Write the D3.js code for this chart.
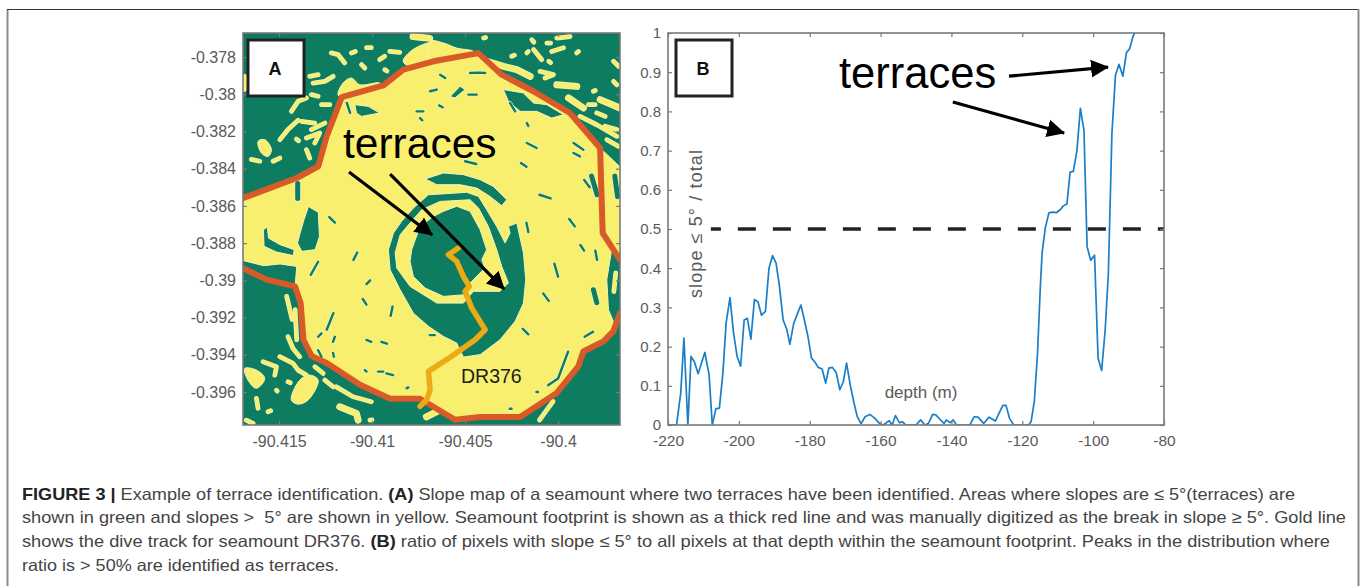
<!DOCTYPE html>
<html>
<head>
<meta charset="utf-8">
<script src="https://cdn.jsdelivr.net/npm/d3@7"></script>
<style>
  html, body { margin:0; padding:0; background:#fff; overflow:hidden; }
  text { font-family:"Liberation Sans", Arial, sans-serif; }
</style>
</head>
<body>
<div id="graph-container"></div>
<script>
// ---- panel A : all map points are [lon, lat] in thousandths of a degree (lon is counted from -90)
const lonTicks = [-90.415,-90.41,-90.405,-90.4];
const lonTickLabels = ['-90.415','-90.41','-90.405','-90.4'];
const latTicks = [-0.378,-0.38,-0.382,-0.384,-0.386,-0.388,-0.39,-0.392,-0.394,-0.396];
const latTickLabels = ['-0.378','-0.38','-0.382','-0.384','-0.386','-0.388','-0.39','-0.392','-0.394','-0.396'];

const footprintNorth = [[-416.95,-385.58],[-414.05,-384.5],[-412.89,-383.87],[-412.44,-382.26],[-411.63,-380.15],[-409.39,-379.52],[-408.32,-378.68],[-406.7,-378.23],[-404.28,-377.79],[-403.03,-378.95],[-401.33,-379.84],[-399.36,-381.01],[-397.74,-382.89],[-397.6,-387.46],[-396.67,-388.89]];
const footprintSouth = [[-396.67,-391.76],[-397.03,-392.74],[-397.56,-393.28],[-398.64,-393.82],[-398.91,-394.62],[-400.07,-396.05],[-402.04,-397.34],[-404.19,-397.34],[-405.54,-397.49],[-407.42,-396.36],[-409.03,-396.36],[-410.65,-395.61],[-412.44,-394.44],[-413.24,-394.08],[-413.69,-393.19],[-413.84,-391.22],[-414.14,-390.32],[-415.66,-389.96],[-416.95,-389.34]];
const diveTrack = [[-405.36,-388.26],[-405.9,-388.62],[-405.45,-388.98],[-405.09,-389.79],[-404.77,-390.32],[-405,-390.59],[-404.64,-391.49],[-403.92,-392.65],[-404.46,-393.19],[-405.72,-394.08],[-406.97,-394.89],[-406.88,-395.88],[-407.06,-396.41],[-407.42,-396.77]];

const yellowAreas = [
  [[-416.95,-385.52],[-414.05,-384.56],[-412.89,-383.87],[-412.44,-382.26],[-411.63,-380.15],[-409.39,-379.52],[-408.32,-378.68],[-406.7,-378.23],[-404.28,-377.79],[-403.03,-378.95],[-401.33,-379.84],[-399.36,-381.01],[-397.74,-382.89],[-397.6,-387.46],[-397.12,-388.35],[-397.38,-389.96],[-397.29,-391.58],[-397.03,-392.2],[-397.03,-392.74],[-397.56,-393.28],[-398.64,-393.82],[-398.91,-394.62],[-400.07,-396.05],[-402.04,-397.34],[-404.19,-397.34],[-405.54,-397.49],[-407.42,-396.36],[-409.03,-396.36],[-410.65,-395.61],[-412.44,-394.44],[-413.24,-394.08],[-413.69,-393.19],[-413.84,-391.22],[-414.14,-390.32],[-414.05,-389.25],[-414.95,-389.12],[-415.84,-389.21],[-416.95,-388.93]],
  [[-397.74,-382.89],[-396.67,-383.9],[-396.67,-388.89],[-397.6,-387.46]]
];
const greenAreas = [
  [[-413.87,-387.46],[-413.66,-386.74],[-413.42,-386.03],[-412.89,-386.35],[-412.83,-387.64],[-413.06,-388.35],[-413.78,-388.44],[-414.01,-387.99]],
  [[-415.84,-387.28],[-415.63,-387.13],[-415.57,-387.73],[-414.95,-388.08],[-414.19,-388.35],[-414.23,-388.67],[-415.13,-388.48],[-415.81,-388.17]],
  [[-407.15,-384.55],[-406.16,-384.23],[-405.09,-384.32],[-404.19,-384.59],[-403.48,-384.95],[-402.76,-385.67],[-403.03,-385.99],[-403.66,-385.49],[-404.37,-385.04],[-405.27,-384.86],[-406.52,-384.86]],
  [[-409.12,-388.35],[-408.85,-387.46],[-408.41,-386.83],[-407.78,-386.11],[-406.97,-385.4],[-405.99,-385.34],[-404.91,-385.27],[-404.28,-385.49],[-403.84,-386.2],[-403.3,-387.1],[-402.85,-387.99],[-402.58,-387.46],[-402.67,-387.1],[-402.22,-386.92],[-401.86,-388.53],[-401.74,-389.96],[-401.86,-391.22],[-402.31,-392.2],[-403.12,-393.19],[-404.19,-393.99],[-405.09,-394.12],[-405.45,-393.37],[-406.16,-393.01],[-406.97,-392.47],[-407.78,-391.76],[-408.49,-390.5],[-409.03,-389.43]],
  [[-410.93,-380.56],[-410.21,-380.65],[-409.59,-381.01],[-410.57,-381.19],[-410.84,-381.01]],
  [[-402.94,-379.75],[-401.87,-379.93],[-401.32,-380.47],[-400.61,-380.56],[-399.71,-381.1],[-400.34,-381.28],[-401.15,-380.92],[-402.04,-380.92],[-402.67,-380.38]],
  [[-405.8,-380.12],[-405.27,-379.57],[-405,-379.75],[-405.54,-380.2]]
];
const ringBand = [[-408.76,-388.53],[-408.49,-387.55],[-407.96,-386.92],[-407.33,-386.2],[-406.34,-385.76],[-404.73,-385.67],[-404.28,-386.11],[-403.75,-387.1],[-403.3,-388.35],[-403.03,-389.25],[-402.67,-390.14],[-403.12,-390.59],[-404.55,-390.59],[-405.09,-391.22],[-406.52,-391.22],[-407.96,-390.32],[-408.67,-389.34]];
const innerBlob = [[-407.87,-388.35],[-407.42,-387.1],[-406.7,-386.56],[-406.16,-386.29],[-405.45,-386.02],[-404.73,-386.29],[-404.19,-387.28],[-403.84,-388.35],[-404.1,-388.89],[-403.93,-389.34],[-404.73,-390.14],[-405,-390.77],[-406.16,-390.86],[-407.15,-390.41],[-407.78,-389.79],[-407.96,-388.98]];

const yellowPatches = [
  [[-411.83,-380.02],[-411.56,-379.4],[-411.11,-379.13],[-410.66,-379.49],[-409.59,-379.4],[-409.77,-379.75],[-411.56,-380.2]],
  [[-416.13,-382.53],[-415.77,-382.44],[-415.41,-382.98],[-415.59,-383.34],[-415.95,-383.16]],
  [[-408.33,-378.23],[-407.8,-377.6],[-406.72,-377.25],[-406.72,-378.05],[-407.97,-378.5]],
  [[-406.88,-377.16],[-406.16,-377.25],[-405.45,-377.52],[-404.55,-377.7],[-406.88,-378.41]],
  [[-416.85,-394.73],[-416.22,-394.82],[-415.77,-395.27],[-416.22,-395.8],[-416.67,-395.36]],
  [[-414.34,-396.43],[-413.89,-395.36],[-413.35,-395.09],[-412.9,-395.36],[-413.44,-396.43],[-413.98,-396.65]]
];
const yellowBlobs = [
  [[-403.83,-378.23],[-402.94,-378.5],[-402.22,-378.68],[-401.5,-379.04]],
  [[-400.07,-379.49],[-398.99,-379.58]],
  [[-399.44,-380.2],[-398.64,-380.74]],
  [[-397.74,-380.29],[-396.67,-380.74]],
  [[-407.8,-376.9],[-406.9,-377]],
  [[-407.08,-397.33],[-406.36,-396.97]],
  [[-411.74,-396.79],[-410.84,-397.15],[-410.75,-397.51]]
];
const yellowFlecks = [
  [[-414.96,-382.44],[-414.52,-381.9],[-413.98,-381.4]],[[-414.34,-380.92],[-413.98,-380.38],[-413.53,-380.2]],
  [[-413.26,-380.02],[-412.9,-380.11]],[[-413.35,-379.04],[-412.9,-378.95]],[[-413.17,-379.4],[-412.54,-379.31],[-412.09,-379.04]],
  [[-412.72,-380.56],[-412.27,-380.56]],[[-412.19,-377.78],[-411.83,-377.87],[-411.47,-378.32]],[[-411.11,-377.78],[-410.9,-377.7]],
  [[-410.3,-377.5],[-410.04,-377.5]],[[-409.59,-378.14],[-409.32,-377.96]],[[-409.05,-377.7],[-408.51,-377.75]],
  [[-410.57,-378.41],[-410.39,-378.59]],[[-409.32,-378.68],[-409.2,-378.75]],[[-413.8,-381.46],[-413.08,-381.55]],
  [[-413.26,-381.9],[-412.54,-381.55]],[[-414.07,-382.41],[-413.95,-382.5]],[[-413.53,-382.35],[-412.81,-382.08],[-413.08,-382.62]],
  [[-412.27,-382.26],[-411.83,-381.73]],[[-411.56,-381.64],[-411.2,-380.65],[-410.66,-380.38]],[[-412.72,-383.25],[-412.45,-382.89]],
  [[-413.53,-382.98],[-413.35,-383.43]],[[-416.49,-383.5],[-416.04,-383.6]],[[-415.32,-383.6],[-414.96,-383.43]],
  [[-416.85,-379.04],[-416.85,-379.75]],[[-400.97,-378.77],[-400.25,-378.95],[-400.7,-379.13]],
  [[-401.32,-377.6],[-400.88,-378.14]],[[-400.34,-377.7],[-399.71,-377.5]],[[-400.5,-378.23],[-400.4,-378.3]],
  [[-401.41,-377.07],[-401.3,-377.2]],[[-400.6,-377.25],[-400.4,-377.25]],[[-400.07,-376.98],[-399.35,-376.9]],
  [[-402.49,-377.96],[-402.35,-377.9]],[[-401.68,-377.78],[-401.6,-377.7]],[[-404,-376.98],[-403.9,-376.95]],
  [[-399,-377.78],[-398.9,-377.7]],[[-397.02,-378.23],[-396.75,-378.5]],[[-397.02,-379.31],[-396.84,-379.49]],
  [[-398.1,-379.84],[-398,-379.8]],[[-398.37,-380.56],[-398.01,-380.56]],[[-398.82,-381.19],[-397.92,-381.64],[-396.84,-382.26]],
  [[-397.92,-381],[-397.47,-381.19]],[[-397.47,-381.72],[-396.84,-381.9]],[[-397.38,-382.44],[-396.75,-382.8]],
  [[-415.86,-394.37],[-415.14,-394.64],[-415.23,-395.09]],[[-414.96,-394.1],[-414.25,-394.46],[-413.98,-394.82],[-413.53,-395.09]],
  [[-414.52,-393.03],[-414.25,-393.66],[-413.89,-394.1]],[[-413.08,-394.64],[-412.63,-395]],[[-412.54,-395.36],[-412.09,-395.72]],
  [[-411.92,-395.72],[-411.02,-396.25],[-410.04,-396.52]],[[-410.12,-397.51],[-410,-397.5]],[[-416.22,-396.34],[-416.13,-396.88]],
  [[-415.59,-397.06],[-415.45,-397]],[[-416.76,-397.51],[-416.4,-397.69]],[[-414.52,-395.45],[-414.4,-395.5]],
  [[-415.14,-395.9],[-415.1,-395.95]],[[-401,-397.5],[-400.27,-396.5]],[[-414.05,-393.19],[-414.14,-391.57]],
  [[-414.59,-390.86],[-414.3,-392.1]],[[-396.9,-389.6],[-397,-390.6]],[[-406.9,-392.1],[-406,-392.7],[-405.2,-393.1]]
];
const greenBlobs = [
  [[-398.2,-384.4],[-397.9,-385.4]],[[-398.1,-390.5],[-397.92,-391.2]],[[-414,-384.8],[-414,-385.6]],[[-396.95,-384.4],[-396.8,-385.5]]
];
const greenFlecks = [
  [[-411.36,-380.47],[-411.18,-381]],[[-407.42,-381.28],[-407.3,-381.4]],[[-406.4,-380.6],[-406.2,-380.7]],
  [[-407.6,-380.92],[-407.25,-380.92]],[[-404.82,-380.02],[-404.37,-380.02]],[[-404.73,-378.86],[-404.3,-378.84],[-403.92,-378.86]],
  [[-406.34,-378.95],[-406.07,-379.13]],[[-406.88,-379.84],[-406.52,-379.75]],[[-401.68,-382.62],[-401.15,-382.89]],
  [[-399.17,-382.62],[-398.64,-382.98]],[[-399.17,-383.16],[-398.82,-383.34]],[[-401.68,-381.55],[-401.6,-381.7]],
  [[-402.58,-380.47],[-402.31,-380.92]],[[-402,-383.7],[-401.7,-383.9]],[[-405,-383.6],[-404.4,-383.75]],
  [[-401,-385.4],[-400.4,-385.6]],[[-399.4,-386.7],[-399.1,-387.1]],[[-401.7,-386.9],[-401.6,-387.4]],
  [[-400.2,-389.1],[-400,-389.8]],[[-398.8,-388.1],[-398.6,-388.4]],[[-398,-388.4],[-397.9,-388.9]],
  [[-412.08,-391.76],[-412.44,-392.65]],[[-409.5,-393.3],[-409.2,-393.4]],[[-408.9,-391.4],[-409,-391.9]],
  [[-412.9,-389],[-413.3,-389.7]],[[-410.3,-390.2],[-410.1,-390]],[[-411,-388.9],[-410.8,-388.5]],
  [[-400.54,-395.63],[-400,-395.27],[-399.46,-393.83]],[[-401.16,-396],[-401.08,-396]],[[-412.9,-393.03],[-412.72,-392.85]],
  [[-412,-393.03],[-412.1,-393.3]],[[-410.3,-393.2],[-410.04,-393.3]],[[-410.39,-394.82],[-410.3,-394.9]],
  [[-409.68,-394.9],[-409.4,-394.9]],[[-409.23,-395],[-408.87,-395.09]],[[-408.15,-395.8],[-408.05,-395.75]],
  [[-412.9,-393.75],[-412.72,-394.1]],[[-412.1,-393.9],[-412.05,-394.1]],[[-406.9,-392.94],[-406.63,-392.94]],
  [[-398.57,-393.03],[-398.12,-392.76]],[[-402.6,-396.9],[-402.5,-396.9]],[[-410.5,-391],[-410.3,-391.3]],
  [[-401.9,-392.6],[-401.6,-392.9]],[[-400.8,-390.7],[-400.5,-391.1]],[[-412.3,-386.6],[-412,-386.9]],[[-398.6,-384.6],[-398.3,-385]]
];
const mapArrows = [
  [[-411.24,-384.18],[-406.77,-387.56]],
  [[-409.03,-384.29],[-402.9,-390.47]]
];

// ---- panel B
const depthTicks = [-220,-200,-180,-160,-140,-120,-100,-80];
const ratioTicks = [0,0.1,0.2,0.3,0.4,0.5,0.6,0.7,0.8,0.9,1];
const depth = [-220,-217.6,-216.4,-215.5,-214.4,-213.5,-212.5,-211.5,-209.6,-208.4,-207.5,-206.5,-205.5,-204.5,-203.6,-202.5,-201.5,-200.5,-199.5,-198.5,-197.6,-196.6,-195.6,-194.6,-193.6,-192.5,-191.5,-190.5,-189.5,-188.6,-187.5,-186.5,-185.6,-184.5,-182.5,-181.5,-180.5,-179.5,-178.5,-177.6,-176.5,-175.5,-174.6,-173.6,-172.5,-171.5,-170.5,-169.6,-168.5,-167.5,-166.6,-165.5,-164.4,-163,-161.6,-160.2,-159.2,-157.6,-156.7,-155.8,-154.7,-153.8,-152.9,-150,-148.7,-147.5,-146.5,-145.3,-144.4,-143.2,-142.1,-141.4,-140.4,-139.5,-138.6,-134.8,-133.6,-132.5,-130.9,-129.4,-127.6,-125.5,-124.6,-123.6,-122.4,-118.2,-117.5,-116.6,-115.7,-114.9,-114.4,-113.5,-112.5,-111.5,-110.3,-109.3,-108.4,-107.4,-106.5,-105.6,-104.6,-103.6,-102.6,-101.7,-100.7,-99.6,-98.6,-97.6,-96.6,-95.7,-94.7,-93.7,-92.7,-91.6,-90.6,-89.7,-88.8,-87.8];
const ratio = [0,0,0.082,0.222,0,0.175,0.16,0.131,0.185,0.128,0,0.041,0.043,0.133,0.26,0.325,0.235,0.175,0.15,0.268,0.272,0.219,0.32,0.314,0.28,0.29,0.4,0.432,0.413,0.358,0.268,0.245,0.206,0.26,0.306,0.268,0.226,0.171,0.16,0.147,0.143,0.107,0.145,0.147,0.133,0.09,0.111,0.158,0.099,0.056,0.022,0.003,0.021,0.027,0.017,0.003,0,0.011,0,0.024,0.006,0.008,0,0,0.013,0,0.004,0.027,0.026,0.014,0.004,0.013,0.006,0.013,0,0,0.021,0.02,0.004,0.02,0.01,0.05,0.05,0.017,0,0,0.009,0.06,0.183,0.354,0.44,0.503,0.541,0.543,0.542,0.549,0.559,0.564,0.645,0.647,0.698,0.808,0.752,0.455,0.42,0.433,0.17,0.139,0.243,0.387,0.744,0.892,0.92,0.89,0.95,0.96,0.99,1.01];
const depthArrows = [
  [[-123.75,0.89],[-95.8,0.913]],
  [[-139.6,0.824],[-108.2,0.745]]
];
const threshold = 0.5;
const thresholdStart = -207.9;

const captionLines = [
  {end:1295, parts:[['FIGURE 3 | ',1],['Example of terrace identification. ',0],['(A) ',1],['Slope map of a seamount where two terraces have been identified. Areas where slopes are ≤ 5°(terraces) are',0]]},
  {end:1346, parts:[['shown in green and slopes >  5° are shown in yellow. Seamount footprint is shown as a thick red line and was manually digitized as the break in slope ≥ 5°. Gold line',0]]},
  {end:1330, parts:[['shows the dive track for seamount DR376. ',0],['(B) ',1],['ratio of pixels with slope ≤ 5° to all pixels at that depth within the seamount footprint. Peaks in the distribution where',0]]},
  {end:339, parts:[['ratio is > 50% are identified as terraces.',0]]}
];

const main = () => {
  const width = 1360, height = 586;
  const GREEN = '#0e7b61', YELLOW = '#f8ef6e', HALO = '#eef4c4', RED = '#d85a28', GOLD = '#ecaa14', BLUE = '#1a7ec8';
  const GREY = '#5a5a5a', AXIS = '#7a7a7a';

  const svg = d3.select('#graph-container').append('svg')
    .attr('width', width).attr('height', height).style('display','block').style('background','#fff');

  const defs = svg.append('defs');
  defs.append('filter').attr('id','soft').attr('x','-2%').attr('y','-2%').attr('width','104%').attr('height','104%')
    .append('feGaussianBlur').attr('stdDeviation',0.45);
  defs.append('clipPath').attr('id','map-clip').append('rect').attr('x',243).attr('y',33).attr('width',377).attr('height',392);
  defs.append('clipPath').attr('id','depth-clip').append('rect').attr('x',668).attr('y',33).attr('width',496).attr('height',392);
  defs.append('marker').attr('id','head').attr('viewBox','0 0 18 20').attr('refX',17).attr('refY',10)
    .attr('markerUnits','userSpaceOnUse').attr('markerWidth',18).attr('markerHeight',20).attr('orient','auto')
    .append('path').attr('d','M0 1L18 10L0 19z').attr('fill','#000');

  // page frame
  svg.append('path').attr('d','M7.5 590V9.5').attr('stroke','#8a8a8a').attr('stroke-width',2).attr('fill','none');
  svg.append('path').attr('d','M7 9.5H1358').attr('stroke','#333').attr('stroke-width',1.2).attr('fill','none');
  svg.append('path').attr('d','M1358.5 9V590').attr('stroke','#8a8a8a').attr('stroke-width',2).attr('fill','none');

  // ---------- panel A
  const x = d3.scaleLinear().domain([-90.41694,-90.39667]).range([243,620]);
  const y = d3.scaleLinear().domain([-0.39777,-0.37671]).range([425,33]);
  const px = p => x(-90 + p[0]/1000);
  const py = p => y(p[1]/1000);
  const mapLine = d3.line().x(px).y(py);
  const mapArea = p => mapLine(p) + 'Z';
  const mapBlob = d3.line().x(px).y(py).curve(d3.curveCatmullRomClosed);

  const map = svg.append('g').attr('clip-path','url(#map-clip)');
  const ground = map.append('g').attr('filter','url(#soft)');
  ground.append('rect').attr('x',243).attr('y',33).attr('width',377).attr('height',392).attr('fill',GREEN);

  const strips = (data, color, w) => {
    ground.append('g').selectAll('path').data(data).join('path')
      .attr('d',mapLine).attr('fill','none').attr('stroke',HALO).attr('stroke-width',w+1.4).attr('stroke-linecap','round').attr('stroke-linejoin','round');
    ground.append('g').selectAll('path').data(data).join('path')
      .attr('d',mapLine).attr('fill','none').attr('stroke',color).attr('stroke-width',w).attr('stroke-linecap','round').attr('stroke-linejoin','round');
  };
  const areas = (data, color, shape) => ground.append('g').selectAll('path').data(data).join('path')
    .attr('d',shape).attr('fill',color).attr('stroke',HALO).attr('stroke-width',1);

  areas(yellowPatches, YELLOW, mapBlob);
  strips(yellowBlobs, YELLOW, 5.5);
  strips(yellowFlecks, YELLOW, 3.4);
  areas(yellowAreas, YELLOW, mapArea);
  areas(greenAreas, GREEN, mapArea);
  areas([ringBand], YELLOW, mapArea);
  areas([innerBlob], GREEN, mapArea);
  strips(greenBlobs, GREEN, 5);
  strips(greenFlecks, GREEN, 2.4);

  [footprintNorth, footprintSouth].forEach(seg => map.append('path').attr('d',mapLine(seg)).attr('fill','none')
    .attr('stroke',RED).attr('stroke-width',6).attr('stroke-linejoin','round').attr('stroke-linecap','round'));
  map.append('path').attr('d',mapLine(diveTrack)).attr('fill','none')
    .attr('stroke',GOLD).attr('stroke-width',5.5).attr('stroke-linejoin','round').attr('stroke-linecap','round');

  map.selectAll('path.map-arrow').data(mapArrows).join('path').attr('class','map-arrow')
    .attr('d',mapLine).attr('stroke','#000').attr('stroke-width',3.2).attr('fill','none').attr('marker-end','url(#head)');

  const dress = (g, size) => {
    g.select('.domain').remove();
    g.selectAll('line').attr('stroke',AXIS).attr('stroke-width',1.2);
    g.selectAll('text').attr('fill',GREY).attr('font-size',size);
  };
  const frame = (l,t,w,h) => svg.append('rect').attr('x',l).attr('y',t).attr('width',w).attr('height',h)
    .attr('fill','none').attr('stroke',AXIS).attr('stroke-width',1.6);

  svg.append('g').attr('transform','translate(0,425)')
    .call(d3.axisBottom(x).tickValues(lonTicks).tickFormat((d,i)=>lonTickLabels[i]).tickSizeInner(-4).tickPadding(11))
    .call(g=>dress(g,16));
  svg.append('g').attr('transform','translate(0,33)')
    .call(d3.axisTop(x).tickValues(lonTicks).tickFormat('').tickSizeInner(-4)).call(g=>dress(g,16));
  svg.append('g').attr('transform','translate(243,0)')
    .call(d3.axisLeft(y).tickValues(latTicks).tickFormat((d,i)=>latTickLabels[i]).tickSizeInner(-4).tickPadding(7))
    .call(g=>dress(g,16));
  svg.append('g').attr('transform','translate(620,0)')
    .call(d3.axisRight(y).tickValues(latTicks).tickFormat('').tickSizeInner(-4)).call(g=>dress(g,16));
  frame(243,33,377,392);

  svg.append('text').attr('x',343).attr('y',158).attr('font-size',42.5).attr('fill','#000').text('terraces');
  svg.append('text').attr('x',461).attr('y',383).attr('font-size',19.5).attr('fill','#1c1c1c').text('DR376');

  // ---------- panel B
  const xDepth = d3.scaleLinear().domain([-220,-80]).range([668,1164]);
  const yRatio = d3.scaleLinear().domain([0,1]).range([425,33]);
  const series = depth.map((d,i)=>[d,ratio[i]]);
  const depthLine = d3.line().x(d=>xDepth(d[0])).y(d=>yRatio(d[1]));

  svg.append('path').attr('d',depthLine(series)).attr('clip-path','url(#depth-clip)').attr('fill','none')
    .attr('stroke',BLUE).attr('stroke-width',1.7).attr('stroke-linejoin','round');
  svg.append('line').attr('x1',xDepth(thresholdStart)).attr('x2',xDepth(-80)).attr('y1',yRatio(threshold)).attr('y2',yRatio(threshold))
    .attr('stroke','#222').attr('stroke-width',3.4).attr('stroke-dasharray','18 17').attr('stroke-dashoffset',8);

  svg.append('g').attr('transform','translate(0,425)')
    .call(d3.axisBottom(xDepth).tickValues(depthTicks).tickFormat(d=>String(d)).tickSizeInner(-4).tickPadding(10))
    .call(g=>dress(g,15.5));
  svg.append('g').attr('transform','translate(0,33)')
    .call(d3.axisTop(xDepth).tickValues(depthTicks).tickFormat('').tickSizeInner(-4)).call(g=>dress(g,15));
  svg.append('g').attr('transform','translate(668,0)')
    .call(d3.axisLeft(yRatio).tickValues(ratioTicks).tickFormat(d=>String(d)).tickSizeInner(-4).tickPadding(7))
    .call(g=>dress(g,15));
  svg.append('g').attr('transform','translate(1164,0)')
    .call(d3.axisRight(yRatio).tickValues(ratioTicks).tickFormat('').tickSizeInner(-4)).call(g=>dress(g,15));
  frame(668,33,496,392);

  svg.selectAll('path.depth-arrow').data(depthArrows).join('path').attr('class','depth-arrow')
    .attr('d',d=>d3.line().x(p=>xDepth(p[0])).y(p=>yRatio(p[1]))(d))
    .attr('stroke','#000').attr('stroke-width',3.2).attr('fill','none').attr('marker-end','url(#head)');

  svg.append('text').attr('x',839).attr('y',88).attr('font-size',43.5).attr('fill','#000').text('terraces');
  svg.append('text').attr('x',921).attr('y',398).attr('text-anchor','middle').attr('font-size',17).attr('fill',GREY).text('depth (m)');
  svg.append('text').attr('transform','translate(702,224) rotate(-90)').attr('text-anchor','middle')
    .attr('font-size',18).attr('fill',GREY).attr('textLength',148).text('slope ≤ 5° / total');

  // panel letters
  [['A',248,275],['B',676,703]].forEach(([t,l,cx]) => {
    svg.append('rect').attr('x',l).attr('y',40).attr('width',56).attr('height',56).attr('fill','#fff').attr('stroke','#222').attr('stroke-width',3);
    svg.append('text').attr('x',cx).attr('y',75).attr('text-anchor','middle').attr('font-size',18).attr('font-weight','bold').attr('fill','#111').text(t);
  });

  // caption
  const caption = svg.append('g');
  captionLines.forEach((line,i) => {
    const t = caption.append('text').attr('x',22).attr('y',499.5 + i*23.7).attr('font-size',16.5).attr('fill','#444')
      .attr('textLength',line.end-22).attr('lengthAdjust','spacingAndGlyphs').attr('xml:space','preserve');
    line.parts.forEach(p => t.append('tspan').attr('font-weight',p[1]?'bold':'normal').attr('fill',p[1]?'#222':'#444').text(p[0]));
  });
};

main();
</script>
</body>
</html>
